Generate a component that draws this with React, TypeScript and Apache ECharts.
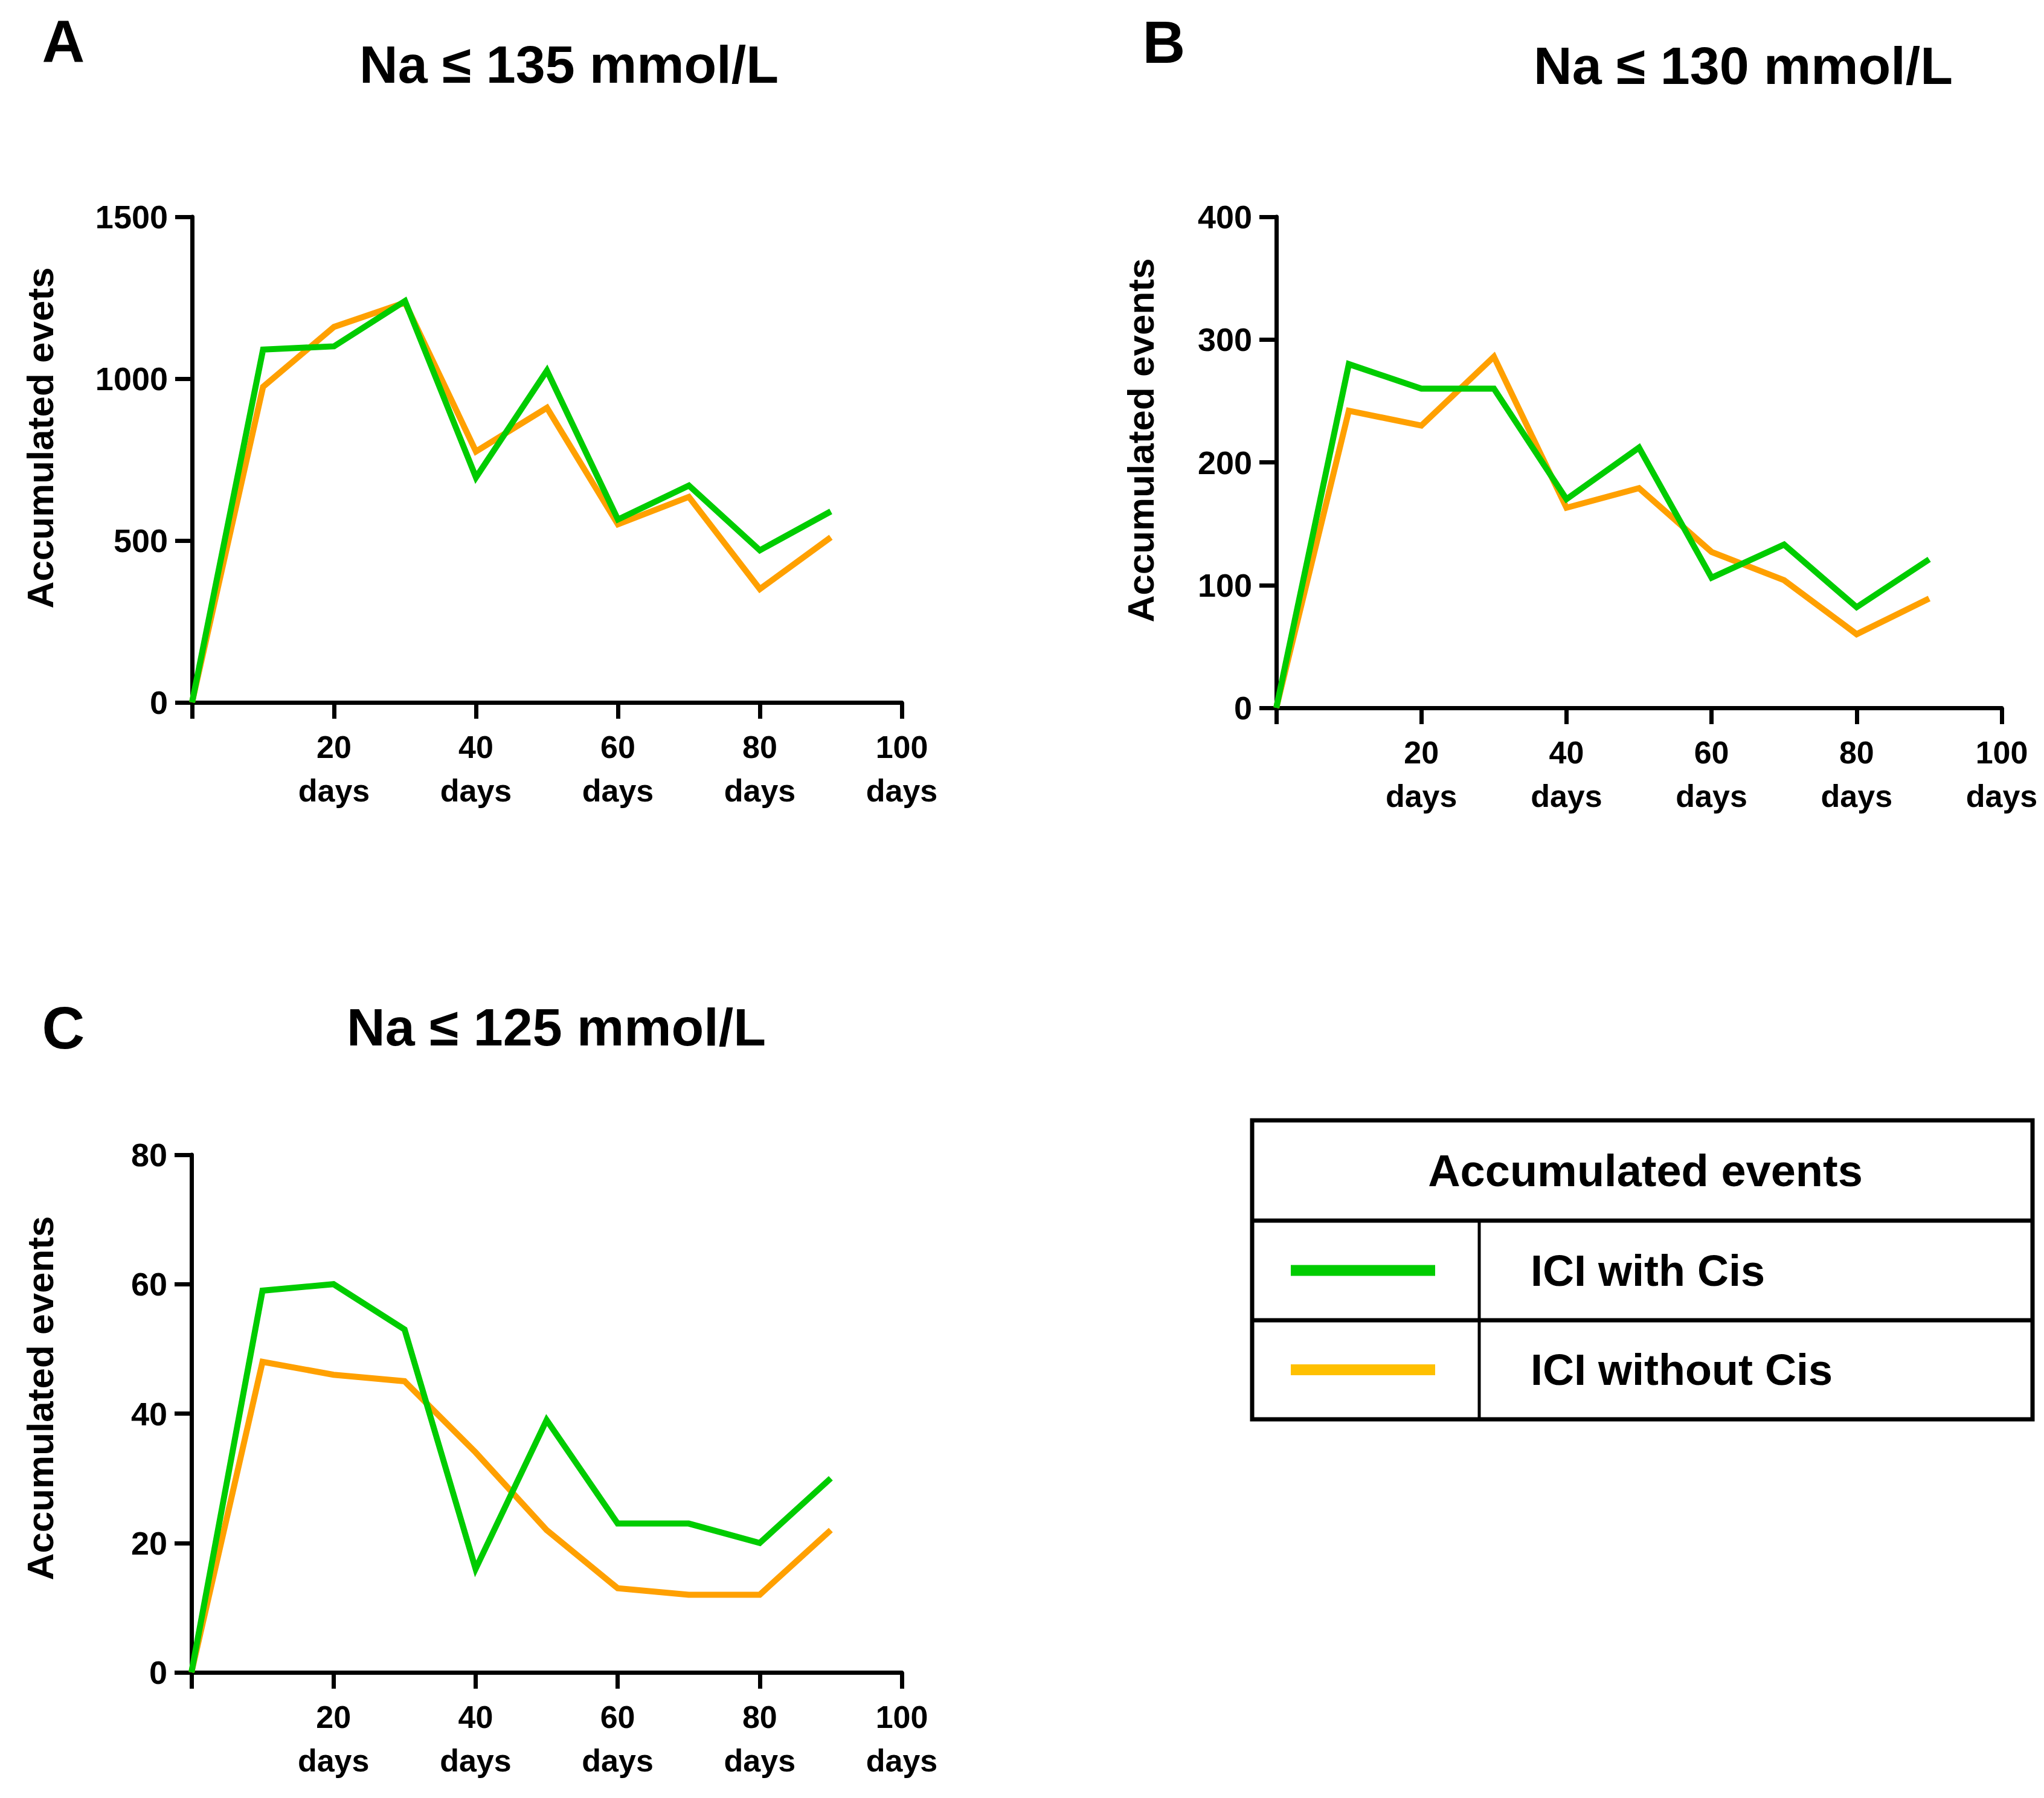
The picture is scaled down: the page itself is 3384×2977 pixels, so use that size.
import React, { useEffect, useRef } from 'react';
import * as echarts from 'echarts';

// ---- data ----
const days = [0, 10, 20, 30, 40, 50, 60, 70, 80, 90];
const xTickLabels = ['', '20\ndays', '40\ndays', '60\ndays', '80\ndays', '100\ndays'];

const na135With = [0, 1090, 1100, 1240, 695, 1025, 565, 670, 470, 590];
const na135Without = [0, 975, 1160, 1235, 775, 910, 550, 635, 350, 510];
const na130With = [0, 280, 260, 260, 170, 212, 106, 133, 82, 121];
const na130Without = [0, 242, 230, 286, 163, 179, 127, 104, 60, 89];
const na125With = [0, 59, 60, 53, 16, 39, 23, 23, 20, 30];
const na125Without = [0, 48, 46, 45, 34, 22, 13, 12, 12, 22];

const panelTitles = ['Na ≤ 135 mmol/L', 'Na ≤ 130 mmol/L', 'Na ≤ 125 mmol/L'];
const panelLetters = ['A', 'B', 'C'];
const yAxisTitles = ['Accumulated evets', 'Accumulated events', 'Accumulated events'];
const yMaxes = [1500, 400, 80];
const yIntervals = [500, 100, 20];
const seriesNames = ['ICI with Cis', 'ICI without Cis'];
const legendTitle = 'Accumulated events';

// ---- styling / layout ----
const FONT = "'Liberation Sans', Arial, sans-serif";
const GREEN = '#00CC00';
const ORANGE = '#FFA000';
const LEG_ORANGE = '#FFC000';

const grids = [
  { left: 318, top: 359, width: 1175, height: 804 },
  { left: 2113, top: 359, width: 1201, height: 813 },
  { left: 317, top: 1912, width: 1176, height: 857 },
];
const titlePos = [
  [942, 106],
  [2886, 108],
  [921, 1700],
];
const letterPos = [
  [105, 68],
  [1927, 70],
  [105, 1702],
];
const yTitlePos = [
  [66, 725],
  [1888, 729],
  [66, 2315],
];

const pairs = (ys: number[]) => days.map((d, i) => [d, ys[i]]);
const panelData = [
  [na135With, na135Without],
  [na130With, na130Without],
  [na125With, na125Without],
];

function buildOption() {
  const xAxis: any[] = [];
  const yAxis: any[] = [];
  const series: any[] = [];
  const graphic: any[] = [];

  grids.forEach((_, i) => {
    xAxis.push({
      type: 'value',
      gridIndex: i,
      min: 0,
      max: 100,
      interval: 20,
      axisLine: { show: true, onZero: true, lineStyle: { color: '#000', width: 7 } },
      axisTick: { show: true, length: 27, lineStyle: { color: '#000', width: 7 } },
      splitLine: { show: false },
      axisLabel: {
        show: true,
        margin: 38,
        color: '#000',
        fontFamily: FONT,
        fontWeight: 'bold',
        fontSize: 52,
        lineHeight: 72,
        formatter: (v: number) => xTickLabels[Math.round(v / 20)] ?? '',
      },
    });
    yAxis.push({
      type: 'value',
      gridIndex: i,
      min: 0,
      max: yMaxes[i],
      interval: yIntervals[i],
      axisLine: { show: true, lineStyle: { color: '#000', width: 7 } },
      axisTick: { show: true, length: 28, lineStyle: { color: '#000', width: 7 } },
      splitLine: { show: false },
      axisLabel: {
        show: true,
        margin: 40,
        color: '#000',
        fontFamily: FONT,
        fontWeight: 'bold',
        fontSize: 54,
        formatter: (v: number) => String(v),
      },
    });
    const [withCis, withoutCis] = panelData[i];
    series.push({
      type: 'line',
      name: seriesNames[1],
      xAxisIndex: i,
      yAxisIndex: i,
      data: pairs(withoutCis),
      showSymbol: false,
      symbol: 'none',
      clip: false,
      lineStyle: { color: ORANGE, width: 10, join: 'miter' },
      itemStyle: { color: ORANGE },
      z: 3,
    });
    series.push({
      type: 'line',
      name: seriesNames[0],
      xAxisIndex: i,
      yAxisIndex: i,
      data: pairs(withCis),
      showSymbol: false,
      symbol: 'none',
      clip: false,
      lineStyle: { color: GREEN, width: 10, join: 'miter' },
      itemStyle: { color: GREEN },
      z: 4,
    });

    graphic.push({
      type: 'text',
      x: titlePos[i][0],
      y: titlePos[i][1],
      style: {
        text: panelTitles[i],
        fill: '#000',
        fontFamily: FONT,
        fontWeight: 'bold',
        fontSize: 88,
        align: 'center',
        verticalAlign: 'middle',
      },
    });
    graphic.push({
      type: 'text',
      x: letterPos[i][0],
      y: letterPos[i][1],
      style: {
        text: panelLetters[i],
        fill: '#000',
        fontFamily: FONT,
        fontWeight: 'bold',
        fontSize: 98,
        align: 'center',
        verticalAlign: 'middle',
      },
    });
    graphic.push({
      type: 'text',
      x: yTitlePos[i][0],
      y: yTitlePos[i][1],
      rotation: Math.PI / 2,
      style: {
        text: yAxisTitles[i],
        fill: '#000',
        fontFamily: FONT,
        fontWeight: 'bold',
        fontSize: 62,
        align: 'center',
        verticalAlign: 'middle',
      },
    });
  });

  // legend table
  const L = 2073, R = 3365, T = 1855, B = 2350;
  const row1 = 2021, row2 = 2186, col = 2449;
  graphic.push({
    type: 'rect',
    shape: { x: L, y: T, width: R - L, height: B - T },
    style: { fill: '#fff', stroke: '#000', lineWidth: 7 },
  });
  graphic.push({ type: 'line', shape: { x1: L, y1: row1, x2: R, y2: row1 }, style: { stroke: '#000', lineWidth: 7 } });
  graphic.push({ type: 'line', shape: { x1: L, y1: row2, x2: R, y2: row2 }, style: { stroke: '#000', lineWidth: 7 } });
  graphic.push({ type: 'line', shape: { x1: col, y1: row1, x2: col, y2: B }, style: { stroke: '#000', lineWidth: 5 } });
  graphic.push({
    type: 'text',
    x: (L + R) / 2 + 5,
    y: (T + row1) / 2,
    style: {
      text: legendTitle,
      fill: '#000',
      fontFamily: FONT,
      fontWeight: 'bold',
      fontSize: 74,
      align: 'center',
      verticalAlign: 'middle',
    },
  });
  const rowMid = [(row1 + row2) / 2, (row2 + B) / 2];
  const swatch = [GREEN, LEG_ORANGE];
  seriesNames.forEach((name, k) => {
    graphic.push({
      type: 'line',
      shape: { x1: 2137, y1: rowMid[k], x2: 2376, y2: rowMid[k] },
      style: { stroke: swatch[k], lineWidth: 18 },
    });
    graphic.push({
      type: 'text',
      x: 2534,
      y: rowMid[k],
      style: {
        text: name,
        fill: '#000',
        fontFamily: FONT,
        fontWeight: 'bold',
        fontSize: 72,
        align: 'left',
        verticalAlign: 'middle',
      },
    });
  });

  return {
    animation: false,
    backgroundColor: '#fff',
    grid: grids.map((g) => ({ ...g, containLabel: false })),
    xAxis,
    yAxis,
    series,
    graphic,
  };
}

export default function App() {
  const ref = useRef<HTMLDivElement>(null);
  useEffect(() => {
    document.body.style.margin = '0';
    if (!ref.current) return;
    const chart = echarts.init(ref.current, null, { renderer: 'svg' });
    chart.setOption(buildOption() as any);
    return () => chart.dispose();
  }, []);
  return <div ref={ref} style={{ width: 3384, height: 2977 }} />;
}
